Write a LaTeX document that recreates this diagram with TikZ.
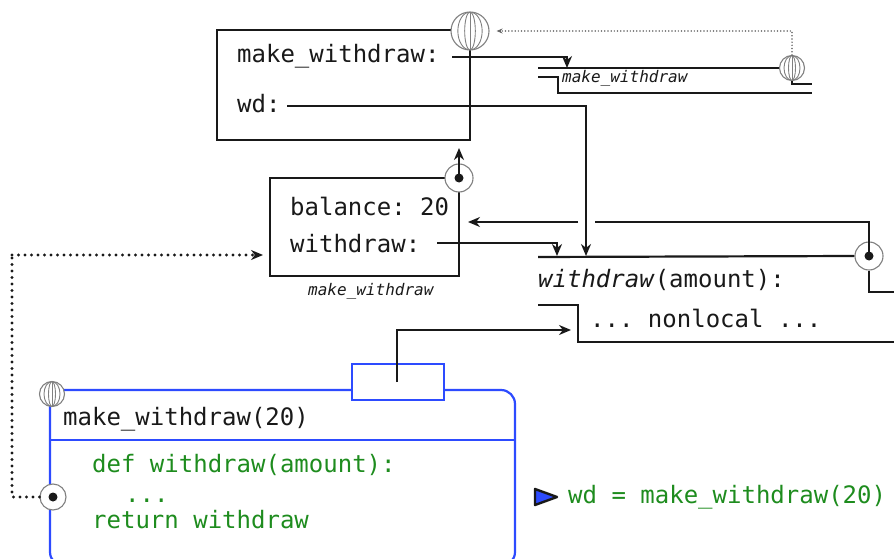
\documentclass[tikz,border=0pt]{standalone}
\usepackage{fontspec}
\setmonofont{DejaVu Sans Mono}
\usetikzlibrary{arrows.meta}
\definecolor{fblue}{RGB}{45,75,255}
\definecolor{cgreen}{RGB}{30,140,30}
\definecolor{ink}{RGB}{25,25,25}
\begin{document}
\begin{tikzpicture}[x=1pt,y=-1pt,
  txt/.style={inner sep=0pt, anchor=base west, text=ink, font=\ttfamily\fontsize{24}{28}\selectfont},
  small/.style={inner sep=0pt, anchor=base west, text=ink, font=\ttfamily\itshape\fontsize{16}{18}\selectfont},
  codetxt/.style={txt, text=cgreen},
  box/.style={draw=ink, line width=2.2pt},
  wire/.style={draw=ink, line width=2.2pt},
  tip/.style={-{Stealth[length=12pt,width=10pt]}},
  arr/.style={wire, tip},
  globe/.style={circle, draw=gray, fill=white, line width=1.1pt, minimum size=#1, inner sep=0pt,
    path picture={
      \draw[gray, line width=0.9pt] (path picture bounding box.center) ellipse[x radius=0.14*#1, y radius=0.5*#1];
      \draw[gray, line width=0.9pt] (path picture bounding box.center) ellipse[x radius=0.32*#1, y radius=0.5*#1];
      \draw[gray, line width=0.9pt] (path picture bounding box.north) -- (path picture bounding box.south);
    }},
  ptrcirc/.style={circle, draw=gray, fill=white, line width=1.1pt, minimum size=28pt, inner sep=0pt},
  dotc/.style={circle, fill=ink, minimum size=9pt, inner sep=0pt},
  ldots/.style={draw=ink, line width=3.2pt, line cap=round, dash pattern=on 0pt off 6.5pt},
  gdots/.style={line width=1.7pt, draw=gray!80!black, line cap=round, dash pattern=on 0pt off 3.2pt},
  fframe/.style={draw=fblue, line width=2.2pt}]
\useasboundingbox (0,0) rectangle (894,559);
\clip (0,0) rectangle (894,559);

% ---------- global frame ----------
\draw[box] (451,30) -- (217,30) -- (217,140) -- (470,140) -- (470,40);
\node[globe=38pt] (g0) at (470,31) {};
\node[txt] (mw) at (237,63) {make\_withdraw:};
\node[txt] (wd) at (237,113) {wd:};

% ---------- top-right function object ----------
\coordinate (f1a) at (538,68);
\node[globe=25pt] (g1) at (792,68) {};
\draw[wire] (f1a) -- (g1.west);
\draw[wire] (g1.south) -- (792,84) -- (812,84);
\draw[wire] (538,77) -- (558,77) -- (558,93) -- (812,93);
\node[small] (f1lab) at (562,83) {make\_withdraw};
\draw[gdots, -{Stealth[length=6pt,width=5pt]}] (g1.north) |- ([xshift=7pt]g0.east);

% make_withdraw binding
\coordinate (mwA) at (452,57);
\coordinate (f1t) at (567,68);
\draw[arr] (mwA) -| (f1t);

% ---------- frame f1 ----------
\draw[box] (270,178) rectangle (459,276);
\node[txt] (bal) at (290,215) {balance: 20};
\node[txt] (wdr) at (290,252) {withdraw:};
\node[small] (f1name) at (308,295) {make\_withdraw};
\node[ptrcirc] (p1) at (459,178) {};
\node[dotc] (p1d) at (p1.center) {};
\coordinate (p1t) at (459,148);
\draw[arr] (p1d.center) -- (p1t);

% ---------- withdraw function object ----------
\node[ptrcirc] (c2) at (869,256) {};
\node[dotc] (c2d) at (c2.center) {};
\draw[wire] (538,257) -- (c2.west);
\coordinate (c2t) at (869,222);
\coordinate (gapR) at (595,222);
\coordinate (gapL) at (578,222);
\coordinate (f1r) at (468,222);
\draw[wire] (c2d.center) -- (c2t) -- (gapR);
\draw[arr] (gapL) -- (f1r);
\draw[wire] (c2.south) -- (869,292) -- (894,292);
\node[txt] (sig) at (538,287) {\textit{withdraw}(amount):};
\draw[wire] (538,305) -- (578,305) -- (578,342) -- (894,342);
\node[txt] (body) at (590,327) {... nonlocal ...};

% wd binding
\coordinate (wdA) at (287,106);
\coordinate (f2a) at (586,256);
\draw[arr] (wdA) -| (f2a);
% withdraw binding
\coordinate (wdrA) at (437,243);
\coordinate (f2b) at (557,256);
\draw[arr] (wdrA) -| (f2b);

% ---------- blue frame ----------
\draw[fframe, rounded corners=14pt] (60,390) -- (515,390) -- (515,566) -- (50,566) -- (50,400);
\draw[fframe] (50,440) -- (515,440);
\draw[fframe, fill=white] (352,364) rectangle (444,400);
\node[globe=25pt] (g2) at (52,394) {};
\node[txt] (call) at (63,425) {make\_withdraw(20)};
\node[codetxt] (l1) at (92,472) {def withdraw(amount):};
\node[codetxt] (l2) at (125,502) {...};
\node[codetxt] (l3) at (92,528) {return withdraw};
\node[ptrcirc, minimum size=26pt] (c3) at (53,497) {};
\node[dotc] (c3d) at (c3.center) {};
\coordinate (rv) at (397,382);
\coordinate (bodyin) at (571,330);
\draw[wire, line width=2pt, tip] (rv) |- (bodyin);
\coordinate (dL) at (12,497);
\coordinate (f1l) at (263,255);
\draw[ldots] (c3.west) -- (dL) -- (12,255);
\draw[ldots, tip] (12,255) -- (f1l);

% ---------- current line ----------
\draw[draw=ink, fill=fblue, line width=2.4pt, line join=round] (535,489) -- (557,497) -- (535,505) -- cycle;
\node[codetxt] (stmt) at (568,503) {wd = make\_withdraw(20)};
\end{tikzpicture}
\end{document}
